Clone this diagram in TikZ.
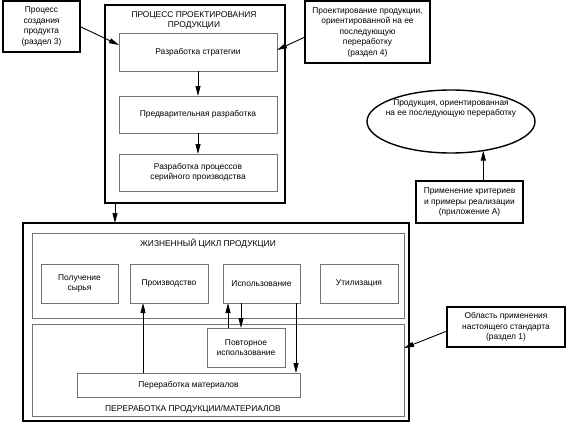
\documentclass[tikz,border=0pt]{standalone}
\usepackage{fontspec}
\setmainfont{Liberation Sans}
\usetikzlibrary{arrows.meta,shapes.geometric}
\begin{document}
\begin{tikzpicture}[x=1pt,y=-1pt,
  font=\fontsize{8.4}{10.5}\selectfont,
  box/.style={rectangle, inner sep=0pt, outer sep=0pt, align=center},
  outer/.style={box, draw=black, line width=1.4pt},
  inner/.style={box, draw=black!55, line width=0.8pt},
  lbl/.style={inner sep=0pt, align=center},
  arr/.style={-{Triangle[length=10pt,width=5pt]}, line width=0.9pt}]
\useasboundingbox (0,0) rectangle (567,423);

% top left
\node[outer, minimum width=77pt, minimum height=51pt] (b1) at (41.5,26.5) {Процесс\\создания\\продукта\\(раздел 3)};

% design process
\node[outer, minimum width=180pt, minimum height=198pt] (design) at (195,104) {};
\node[lbl] (dtitle) at (194,20.5) {ПРОЦЕСС ПРОЕКТИРОВАНИЯ\\ПРОДУКЦИИ};
\node[inner, minimum width=158pt, minimum height=38pt] (s1) at (198,52) {Разработка стратегии};
\node[inner, minimum width=158pt, minimum height=37pt] (s2) at (198,114.5) {Предварительная разработка};
\node[inner, minimum width=158pt, minimum height=37pt] (s3) at (198,172.5) {Разработка процессов\\серийного производства};

% top right
\node[outer, minimum width=125pt, minimum height=62pt] (tr) at (367.5,32) {Проектирование продукции,\\ориентированной на ее\\последующую\\переработку\\(раздел 4)};

% ellipse
\node[ellipse, draw=black, line width=1.4pt, inner sep=0pt, outer sep=0pt, minimum width=168pt, minimum height=63pt] (ell) at (451,121.5) {};
\node[lbl] (elltext) at (451,108.5) {Продукция, ориентированная\\на ее последующую переработку};

% criteria
\node[outer, minimum width=107pt, minimum height=42pt] (crit) at (469.5,202) {Применение критериев\\и примеры реализации\\(приложение А)};

% lower block
\node[outer, minimum width=386pt, minimum height=198pt] (big) at (216,322) {};
\node[inner, minimum width=372pt, minimum height=85pt] (life) at (218,275.5) {};
\node[inner, minimum width=372pt, minimum height=92pt] (rec) at (218,370) {};
\node[lbl] (ltitle) at (208,243.5) {ЖИЗНЕННЫЙ ЦИКЛ ПРОДУКЦИИ};
\node[lbl] (rtitle) at (193,409) {ПЕРЕРАБОТКА ПРОДУКЦИИ/МАТЕРИАЛОВ};

\node[inner, minimum width=77pt, minimum height=39pt] (p1) at (79.5,283.5) {Получение\\сырья};
\node[inner, minimum width=78pt, minimum height=39pt] (p2) at (169,283.5) {Производство};
\node[inner, minimum width=77pt, minimum height=39pt] (p3) at (261.5,283.5) {Использование};
\node[inner, minimum width=78pt, minimum height=39pt] (p4) at (359,283.5) {Утилизация};
\node[inner, minimum width=78pt, minimum height=39pt] (rep) at (246,347.5) {Повторное\\использование};
\node[inner, minimum width=223pt, minimum height=24pt] (mat) at (188.5,385) {Переработка материалов};

% scope box
\node[outer, minimum width=118pt, minimum height=40pt] (obl) at (506,327) {Область применения\\настоящего стандарта\\(раздел 1)};

% connectors
\coordinate (cx) at (115,0);
\coordinate (c2) at (143,0);
\coordinate (c3) at (228,0);
\coordinate (c4) at (241,0);
\coordinate (c5) at (296,0);

\draw[arr] (s1) -- (s2);
\draw[arr] (s2) -- (s3);
\draw[arr] (b1.east) -- ([yshift=7pt]s1.west);
\draw[arr] ([yshift=-5pt]tr.west) -- ([yshift=2pt]s1.east);
\draw[arr] (crit.north -| ell.-42.3) -- (ell.-42.3);
\draw[arr] (design.south -| cx) -- (big.north -| cx);
\draw[arr] (mat.north -| c2) -- (p2.south -| c2);
\draw[arr] (rep.north -| c3) -- (p3.south -| c3);
\draw[arr] (p3.south -| c4) -- (rep.north -| c4);
\draw[arr] (p3.south -| c5) -- (mat.north -| c5);
\draw[arr] ([yshift=-4pt]obl.west) -- ([yshift=22pt]rec.east);
\end{tikzpicture}
\end{document}
